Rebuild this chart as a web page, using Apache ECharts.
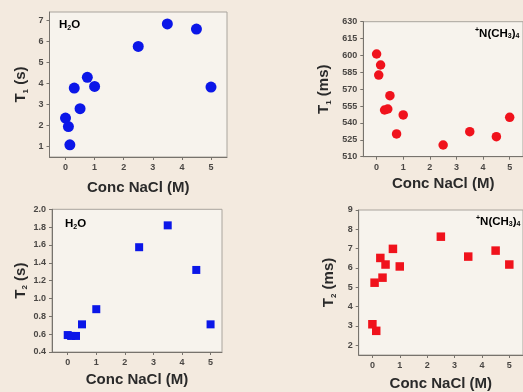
<!DOCTYPE html>
<html>
<head>
<meta charset="utf-8">
<style>
  html, body { margin: 0; padding: 0; background: #f3eadf; }
  #chart { width: 523px; height: 392px; }
</style>
<script src="https://cdn.jsdelivr.net/npm/echarts@6.0.0/dist/echarts.min.js"></script>
</head>
<body>
<div id="chart"></div>
<script>
// values
var xTicks = [0, 1, 2, 3, 4, 5]

var t1WaterX = [0, 0.1, 0.15, 0.3, 0.5, 0.75, 1, 2.5, 3.5, 4.5, 5]
var t1WaterY = [2.35, 1.95, 1.08, 3.78, 2.8, 4.29, 3.86, 5.76, 6.83, 6.59, 3.83]
var t1WaterTicks = [1, 2, 3, 4, 5, 6, 7]

var t1TmaX = [0, 0.15, 0.08, 0.5, 0.3, 0.42, 1, 0.75, 2.5, 3.5, 4.5, 5]
var t1TmaY = [601.3, 591.5, 582.6, 564.2, 551.5, 552.4, 547.1, 530.2, 520.4, 532.2, 527.8, 545]
var t1TmaTicks = [510, 525, 540, 555, 570, 585, 600, 615, 630]

var t2WaterX = [0, 0.12, 0.29, 0.5, 1, 2.5, 3.5, 4.5, 5]
var t2WaterY = [0.59, 0.58, 0.58, 0.71, 0.88, 1.575, 1.82, 1.32, 0.71]
var t2WaterTicks = [0.4, 0.6, 0.8, 1.0, 1.2, 1.4, 1.6, 1.8, 2.0]

var t2TmaX = [0, 0.14, 0.08, 0.29, 0.37, 0.48, 0.75, 1, 2.5, 3.5, 4.5, 5]
var t2TmaY = [3.09, 2.75, 5.24, 6.52, 5.5, 6.18, 6.99, 6.08, 7.62, 6.59, 6.9, 6.18]
var t2TmaTicks = [2, 3, 4, 5, 6, 7, 8, 9]

var FONT = '"Liberation Sans", Arial, sans-serif'
var BLUE = '#0b16e8'
var RED = '#f0121c'

function pairs(xs, ys) {
  return xs.map(function (x, i) { return [x, ys[i]] })
}

var nameRich = {
  b: { fontFamily: FONT, fontWeight: 'bold', fontSize: 15, color: '#2a2a2a' },
  s: { fontFamily: FONT, fontWeight: 'bold', fontSize: 8, color: '#2a2a2a', verticalAlign: 'bottom', padding: [9, 0, 0, 0] }
}

function labelRich() {
  return {
    b: { fontFamily: FONT, fontWeight: 'bold', fontSize: 11.5, color: '#2a2a2a' },
    s: { fontFamily: FONT, fontWeight: 'bold', fontSize: 7, color: '#2a2a2a', verticalAlign: 'top', padding: [0, 0, 5, 0] },
    d: { fontFamily: FONT, fontWeight: 'bold', fontSize: 7, color: '#2a2a2a', verticalAlign: 'bottom', padding: [6, 0, 0, 0] }
  }
}

function xAxisFor(gi, min, max, gap) {
  return {
    gridIndex: gi,
    type: 'value',
    min: min,
    max: max,
    name: 'Conc NaCl (M)',
    nameLocation: 'middle',
    nameGap: gap,
    nameTextStyle: { fontFamily: FONT, fontWeight: 'bold', fontSize: 15, color: '#2a2a2a' },
    axisLine: { show: true, onZero: false, lineStyle: { color: '#77736d', width: 1 } },
    axisTick: { show: true, length: 3, customValues: xTicks, lineStyle: { color: '#77736d' } },
    axisLabel: { customValues: xTicks, margin: 6, fontFamily: FONT, fontWeight: 'bold', fontSize: 9, color: '#4a4744' },
    splitLine: { show: false }
  }
}

function yAxisFor(gi, min, max, ticks, name, gap, fmt) {
  return {
    gridIndex: gi,
    type: 'value',
    min: min,
    max: max,
    name: name,
    nameLocation: 'middle',
    nameRotate: 90,
    nameGap: gap,
    nameTextStyle: { rich: nameRich },
    axisLine: { show: true, onZero: false, lineStyle: { color: '#77736d', width: 1 } },
    axisTick: { show: true, length: 3, customValues: ticks, lineStyle: { color: '#77736d' } },
    axisLabel: {
      customValues: ticks, margin: 6, fontFamily: FONT, fontWeight: 'bold', fontSize: 9, color: '#4a4744',
      formatter: fmt || function (v) { return String(v) }
    },
    splitLine: { show: false }
  }
}

var gridBase = { show: true, backgroundColor: '#f7f3ed', borderColor: '#a9a49d', borderWidth: 1 }

var option = {
  backgroundColor: '#f3eadf',
  animation: false,
  grid: [
    Object.assign({ left: 49.5, top: 12, width: 177.5, height: 145 }, gridBase),
    Object.assign({ left: 363.3, top: 21.7, width: 166.3, height: 135 }, gridBase),
    Object.assign({ left: 52, top: 209.3, width: 170, height: 142.7 }, gridBase),
    Object.assign({ left: 358.7, top: 210, width: 174.3, height: 147 }, gridBase)
  ],
  xAxis: [
    xAxisFor(0, -0.55, 5.55, 23),
    xAxisFor(1, -0.5, 5.5, 20),
    xAxisFor(2, -0.55, 5.4, 20),
    xAxisFor(3, -0.5, 5.5, 21)
  ],
  yAxis: [
    yAxisFor(0, 0.5, 7.4, t1WaterTicks, '{b|T}{s|1}{b| (s)}', 20),
    yAxisFor(1, 510, 630, t1TmaTicks, '{b|T}{s|1}{b| (ms)}', 31),
    yAxisFor(2, 0.4, 2.0, t2WaterTicks, '{b|T}{s|2}{b| (s)}', 23, function (v) { return v.toFixed(1) }),
    yAxisFor(3, 1.5, 9, t2TmaTicks, '{b|T}{s|2}{b| (ms)}', 21)
  ],
  series: [
    { type: 'scatter', xAxisIndex: 0, yAxisIndex: 0, symbol: 'circle', symbolSize: 11,
      itemStyle: { color: BLUE, opacity: 1 }, data: pairs(t1WaterX, t1WaterY) },
    { type: 'scatter', xAxisIndex: 1, yAxisIndex: 1, symbol: 'circle', symbolSize: 9.5,
      itemStyle: { color: RED, opacity: 1 }, data: pairs(t1TmaX, t1TmaY) },
    { type: 'scatter', xAxisIndex: 2, yAxisIndex: 2, symbol: 'rect', symbolSize: 8,
      itemStyle: { color: BLUE, opacity: 1 }, data: pairs(t2WaterX, t2WaterY) },
    { type: 'scatter', xAxisIndex: 3, yAxisIndex: 3, symbol: 'rect', symbolSize: 8.5,
      itemStyle: { color: RED, opacity: 1 }, data: pairs(t2TmaX, t2TmaY) }
  ],
  graphic: [
    { type: 'text', left: 59, top: 19, style: { text: '{b|H}{d|2}{b|O}', rich: labelRich() } },
    { type: 'text', left: 65, top: 218, style: { text: '{b|H}{d|2}{b|O}', rich: labelRich() } },
    { type: 'text', left: 475, top: 27, style: { text: '{s|+}{b|N(CH}{d|3}{b|)}{d|4}', rich: labelRich() } },
    { type: 'text', left: 476, top: 215, style: { text: '{s|+}{b|N(CH}{d|3}{b|)}{d|4}', rich: labelRich() } }
  ]
}

var chart = echarts.init(document.getElementById('chart'), null, { renderer: 'canvas' })
chart.setOption(option)
</script>
</body>
</html>
